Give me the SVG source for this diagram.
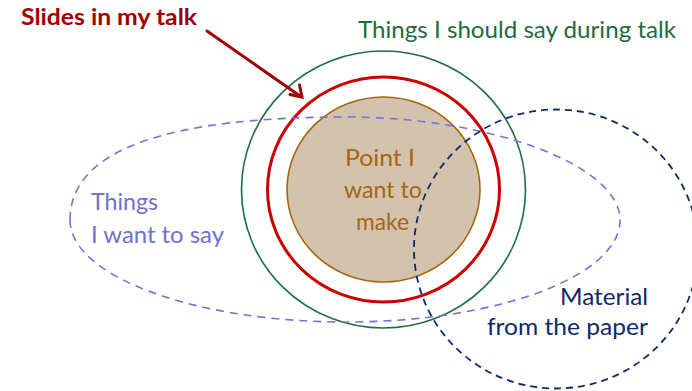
<svg xmlns="http://www.w3.org/2000/svg" width="692" height="391" viewBox="0 0 692 391">
  <style>
    .lbl { font-family: Lato, "Open Sans", "Liberation Sans", sans-serif; font-size: 23px; }
    .bold { font-weight: bold; }
    .dash-purple { fill: none; stroke: #7373d8; stroke-width: 1.6; stroke-dasharray: 8 6; }
    .dash-navy { fill: none; stroke: #0f2a66; stroke-width: 1.8; stroke-dasharray: 7 5; }
  </style>
  <rect width="692" height="391" fill="#ffffff"/>

  <!-- Things I should say during talk -->
  <g id="should-say">
    <ellipse cx="383.5" cy="189.5" rx="142" ry="138.5" fill="none" stroke="#1e6e3e" stroke-width="1.6"/>
    <text class="lbl" x="358" y="38" fill="#1f6b3e" textLength="318" lengthAdjust="spacingAndGlyphs">Things I should say during talk</text>
  </g>

  <!-- Slides in my talk -->
  <g id="slides">
    <ellipse cx="383.5" cy="189.5" rx="116" ry="112.5" fill="none" stroke="#cc0000" stroke-width="3"/>
    <text class="lbl bold" x="21" y="25" fill="#a00000" textLength="176" lengthAdjust="spacingAndGlyphs">Slides in my talk</text>
  </g>

  <!-- Point I want to make -->
  <g id="point">
    <ellipse cx="383.5" cy="189.5" rx="96.5" ry="92.5" fill="#d3c3ae" stroke="#a8650e" stroke-width="1.6"/>
    <g class="lbl" fill="#a8650e">
      <text x="345" y="166" textLength="70" lengthAdjust="spacingAndGlyphs">Point I</text>
      <text x="344" y="198" textLength="78" lengthAdjust="spacingAndGlyphs">want to</text>
      <text x="356" y="230" textLength="53" lengthAdjust="spacingAndGlyphs">make</text>
    </g>
  </g>

  <!-- Things I want to say -->
  <g id="want-say">
    <path class="dash-purple" d="M70,220 C70,148 172,117 346,117 C490,117 620,165 620,220 C620,276 498,322 346,322 C194,322 70,276 70,220 Z"/>
    <g class="lbl" fill="#7070d0">
      <text x="91" y="210" textLength="67" lengthAdjust="spacingAndGlyphs">Things</text>
      <text x="91" y="243" textLength="133" lengthAdjust="spacingAndGlyphs">I want to say</text>
    </g>
  </g>

  <!-- Material from the paper -->
  <g id="paper">
    <ellipse class="dash-navy" cx="556" cy="249" rx="142" ry="139.5"/>
    <g class="lbl" fill="#0f2a66">
      <text x="560" y="305" textLength="88" lengthAdjust="spacingAndGlyphs">Material</text>
      <text x="487" y="335" textLength="161" lengthAdjust="spacingAndGlyphs">from the paper</text>
    </g>
  </g>

  <!-- arrow from the slide label to the red ring -->
  <g id="connectors" fill="none" stroke="#a00000" stroke-width="3" stroke-linecap="round">
    <line x1="207" y1="31" x2="300" y2="96"/>
    <path d="M290,94.5 L302,97 L299.5,85" stroke-linejoin="miter"/>
  </g>
</svg>
